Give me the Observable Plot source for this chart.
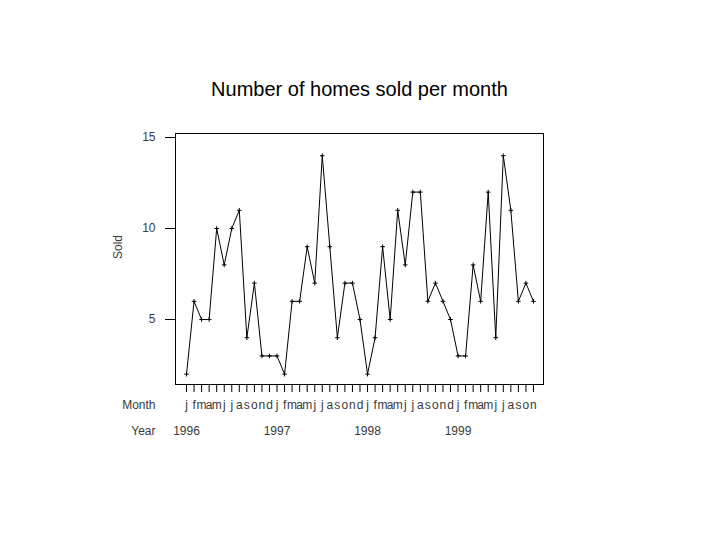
<!DOCTYPE html>
<html>
<head>
<meta charset="utf-8">
<script src="https://cdn.jsdelivr.net/npm/d3@7"></script>
<script src="https://cdn.jsdelivr.net/npm/@observablehq/plot@0.6"></script>
<style>
  html, body { margin: 0; padding: 0; background: #fff; }
  svg { display: block; }
</style>
</head>
<body>
<div id="chart"></div>
<script>
const title = "Number of homes sold per month";
const monthLetters = ["j","f","m","a","m","j","j","a","s","o","n","d"];
const years = ["1996", "1997", "1998", "1999"];
const yearStartIndex = [0, 12, 24, 36];
const sold = [
  2, 6, 5, 5, 10, 8, 10, 11, 4, 7, 3, 3,
  3, 2, 6, 6, 9, 7, 14, 9, 4, 7, 7, 5,
  2, 4, 9, 5, 11, 8, 12, 12, 6, 7, 6, 5,
  3, 3, 8, 6, 12, 4, 14, 11, 6, 7, 6
];
const yTicks = [5, 10, 15];

const data = sold.map((v, i) => ({i, v, m: monthLetters[i % 12]}));
const yearData = years.map((y, k) => ({i: yearStartIndex[k], y}));

const font = "Liberation Sans, Arial, sans-serif";
const gray = "#3a3a3a";

const chart = Plot.plot({
  width: 720,
  height: 540,
  marginLeft: 175,
  marginRight: 177,
  marginTop: 133,
  marginBottom: 156,
  style: {fontFamily: font, background: "#fff"},
  x: {domain: [-1.46, 47.33], axis: null},
  y: {domain: [1.43, 15.22], axis: null},
  marks: [
    Plot.frame({stroke: "#000"}),
    Plot.axisY({ticks: yTicks, anchor: "left", tickSize: 10, tickPadding: 10,
      fontSize: 12, fill: gray, stroke: "#000", label: null}),
    Plot.axisX({ticks: d3.range(sold.length), anchor: "bottom", tickSize: 8,
      tickFormat: () => "", label: null, stroke: "#000"}),
    Plot.line(data, {x: "i", y: "v", stroke: "#000", strokeWidth: 1}),
    Plot.dot(data, {x: "i", y: "v", symbol: "plus", r: 1.6, stroke: "#000", strokeWidth: 1}),
    Plot.text(data, {x: "i", text: "m", frameAnchor: "bottom", lineAnchor: "middle", dy: 21,
      fontSize: 12, fill: gray}),
    Plot.text(yearData, {x: "i", text: "y", frameAnchor: "bottom", lineAnchor: "middle", dy: 47,
      fontSize: 12, fill: gray}),
    Plot.text(["Month"], {frameAnchor: "bottom-left", lineAnchor: "middle", dx: -20, dy: 21,
      textAnchor: "end", fontSize: 12, fill: gray}),
    Plot.text(["Year"], {frameAnchor: "bottom-left", lineAnchor: "middle", dx: -20, dy: 47,
      textAnchor: "end", fontSize: 12, fill: gray}),
    Plot.text(["Sold"], {frameAnchor: "left", lineAnchor: "middle", dx: -57, rotate: -90,
      fontSize: 12, fill: gray}),
    Plot.text([title], {frameAnchor: "top", lineAnchor: "middle", dy: -44, fontSize: 20, fill: "#000"})
  ]
});
document.getElementById("chart").appendChild(chart);
</script>
</body>
</html>
